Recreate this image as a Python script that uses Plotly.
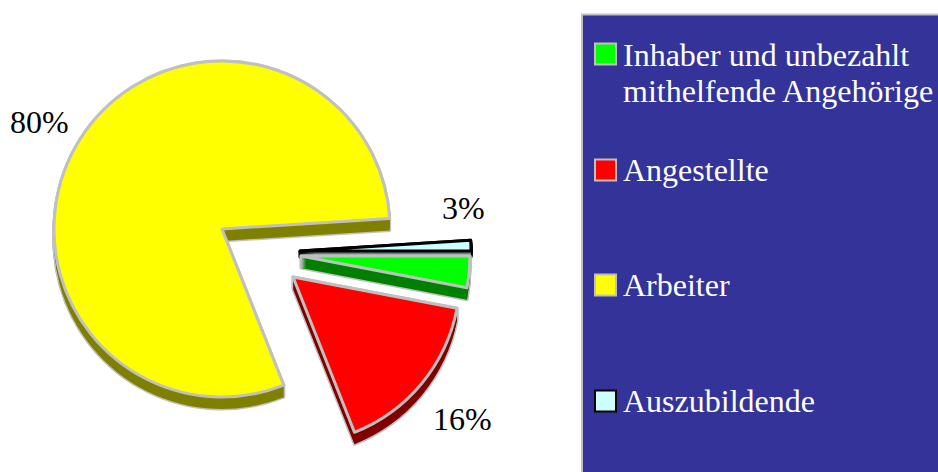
import plotly.graph_objects as go

# Data
categories = ["Auszubildende", "Inhaber und unbezahlt mithelfende Angehörige", "Angestellte", "Arbeiter"]
shares = [1, 3, 16, 80]
legend_order = ["Inhaber und unbezahlt mithelfende Angehörige", "Angestellte", "Arbeiter", "Auszubildende"]
point_labels = ["80%", "3%", "16%"]

W, H = 938, 472
FONT = "Liberation Serif"
GREY = "#c0c0c0"
CLEAR = "rgba(0,0,0,0)"
START = 86.4
DEPTH = 12

style = {
    "Auszubildende": dict(c=(300, 251), r=171, fill="#ccffff", dark="#668080", line="#000000", depth=6),
    "Inhaber und unbezahlt mithelfende Angehörige": dict(c=(301, 256), r=169, fill="#00ff00", dark="#008000", line=GREY, depth=DEPTH),
    "Angestellte": dict(c=(293, 277), r=167, fill="#ff0000", dark="#800000", line=GREY, depth=DEPTH),
    "Arbeiter": dict(c=(222, 229), r=168, fill="#ffff00", dark="#808000", line=GREY, depth=DEPTH),
}


def slice_pie(cat, cy_off, fill, line, width):
    s = style[cat]
    cx, cy = s["c"]
    cy += cy_off
    r = s["r"]
    idx = categories.index(cat)
    colors = [fill if i == idx else CLEAR for i in range(len(categories))]
    lines = [line if i == idx else CLEAR for i in range(len(categories))]
    widths = [width if i == idx else 0 for i in range(len(categories))]
    return go.Pie(
        labels=categories, values=shares, sort=False, direction="clockwise", rotation=START,
        domain=dict(x=[(cx - r) / W, (cx + r) / W], y=[1 - (cy + r) / H, 1 - (cy - r) / H]),
        marker=dict(colors=colors, line=dict(color=lines, width=widths)),
        textinfo="none", hoverinfo="label+percent", showlegend=False,
    )


fig = go.Figure()
for cat in categories:
    s = style[cat]
    for off in range(s["depth"], -1, -1):
        fig.add_trace(slice_pie(cat, off, GREY if s["line"] == GREY else s["dark"], s["line"], 3))
    for off in range(s["depth"], -1, -1):
        fig.add_trace(slice_pie(cat, off, s["dark"], s["dark"], 0))
    fig.add_trace(slice_pie(cat, 0, s["fill"], s["line"], 3))

shapes = [dict(type="rect", xref="paper", yref="paper", x0=582 / W, x1=940 / W, y0=-0.01, y1=1 - 14.5 / H,
               fillcolor="#333399", line=dict(color=GREY, width=2), layer="below")]
swatch_y = [43.5, 159.5, 274.5, 390.5]
annotations = []
legend_lines = [(legend_order[0], 0, 55), (legend_order[1], 1, 170), (legend_order[2], 2, 285), (legend_order[3], 3, 401)]
for name, i, y in legend_lines:
    st = style[name]
    shapes.append(dict(type="rect", xref="paper", yref="paper", x0=595 / W, x1=616 / W,
                       y0=1 - (swatch_y[i] + 21) / H, y1=1 - swatch_y[i] / H,
                       fillcolor=st["fill"], line=dict(color=st["line"], width=2)))
    text = "Inhaber und unbezahlt" if i == 0 else name
    annotations.append(dict(text=text, x=621 / W, y=1 - y / H, xref="paper", yref="paper", xanchor="left",
                            yanchor="middle", showarrow=False, font=dict(family=FONT, size=32, color="white")))
annotations.append(dict(text="mithelfende Angehörige", x=621 / W, y=1 - 91 / H, xref="paper", yref="paper",
                        xanchor="left", yanchor="middle", showarrow=False,
                        font=dict(family=FONT, size=32, color="white")))
for txt, (x, y) in zip(point_labels, [(39, 122), (463, 208), (462, 419)]):
    annotations.append(dict(text=txt, x=x / W, y=1 - y / H, xref="paper", yref="paper", xanchor="center",
                            yanchor="middle", showarrow=False, font=dict(family=FONT, size=32, color="black")))

fig.update_layout(width=W, height=H, margin=dict(l=0, r=0, t=0, b=0), paper_bgcolor="white",
                  shapes=shapes, annotations=annotations)
fig.write_html("out.html", post_script="document.body.style.margin='0';document.body.style.overflow='hidden';",
               config=dict(displayModeBar=False))
